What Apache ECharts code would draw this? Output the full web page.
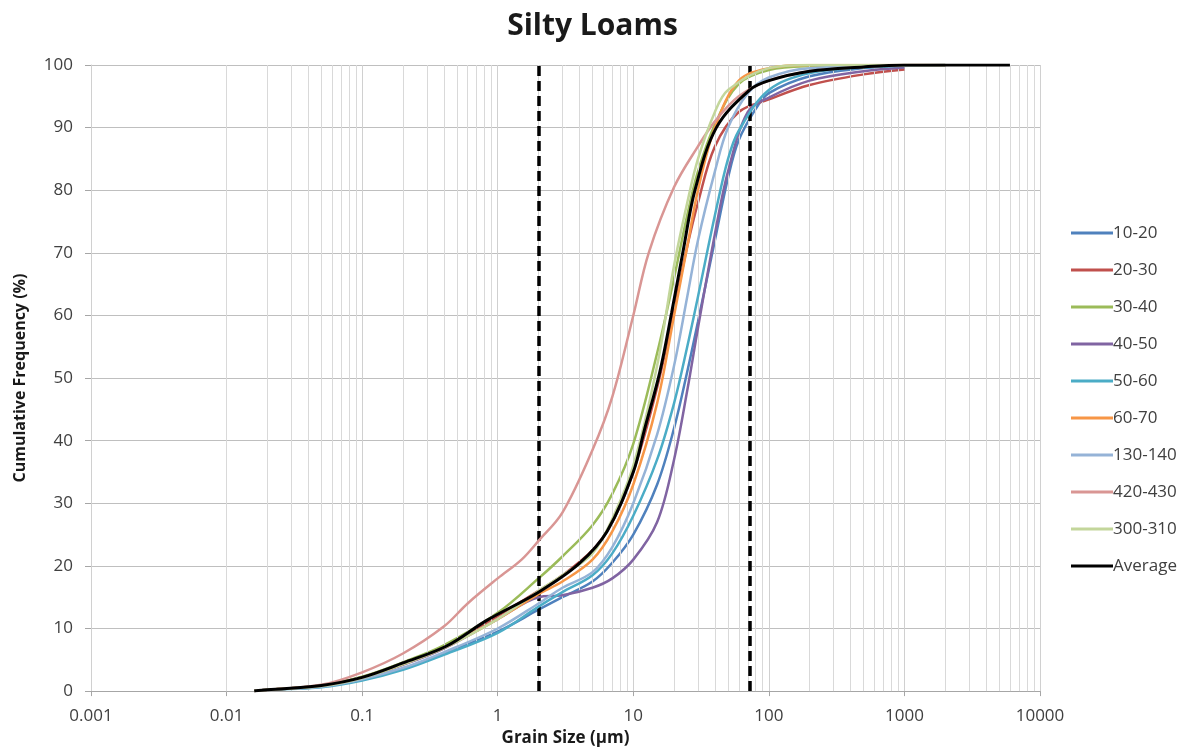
<!DOCTYPE html>
<html>
<head>
<meta charset="utf-8">
<script src="https://cdn.jsdelivr.net/npm/echarts@6/dist/echarts.min.js"></script>
<style>
  html, body { margin: 0; padding: 0; background: #fff; }
  #chart { width: 1185px; height: 752px; }
</style>
</head>
<body>
<div id="chart"></div>
<script>
// Cumulative grain-size curves: [grain size (µm), cumulative frequency (%)]
const s10_20 = [[0.016,0],[0.02,0.2],[0.05,0.7],[0.1,1.9],[0.2,3.6],[0.4,6],[1,9.5],[2,13],[3,15],[5,17.5],[7,20.5],[10,25],[15,33],[20,42],[25,51],[30,59],[40,72],[50,82],[60,88],[80,93],[100,95.5],[200,98.2],[500,99.5],[1000,99.9],[2000,100]];
const s20_30 = [[0.016,0],[0.02,0.2],[0.05,0.9],[0.1,2.2],[0.2,4.4],[0.4,7],[1,12],[2,16],[3,18.5],[5,22.5],[7,27],[10,35],[15,48.5],[20,61],[25,71],[30,78],[40,87],[60,92.5],[100,94.5],[200,96.8],[500,98.5],[1000,99.3]];
const s30_40 = [[0.016,0],[0.02,0.2],[0.05,0.9],[0.1,2.3],[0.2,4.6],[0.4,7.3],[1,12.5],[2,18],[3,21.5],[5,26.5],[7,31.5],[10,39.5],[15,54],[20,66],[25,76],[30,83],[40,90.5],[60,97],[100,99.2],[200,99.8],[2000,100]];
const s40_50 = [[0.016,0],[0.02,0.2],[0.05,0.8],[0.1,2.1],[0.2,4.2],[0.4,6.8],[1,11.5],[2,15],[3,15.3],[5,16.5],[7,18],[10,21],[15,27],[20,37],[25,48],[30,58],[40,73],[50,83],[70,92.5],[100,94.8],[200,97.5],[500,99],[1000,99.6]];
const s50_60 = [[0.016,0],[0.02,0.2],[0.05,0.6],[0.1,1.7],[0.2,3.4],[0.4,5.8],[1,9.3],[2,13.5],[3,15.8],[5,18.5],[7,22],[10,28],[15,37],[20,46],[25,55],[30,63],[40,76],[50,85],[60,89.5],[100,96],[200,98.7],[500,99.6],[2000,100]];
const s60_70 = [[0.016,0],[0.02,0.2],[0.05,0.8],[0.1,2.1],[0.2,4.3],[0.4,6.9],[1,11.5],[2,15.5],[3,17.5],[5,21],[7,25.5],[10,33],[15,46],[20,60],[25,71],[30,80],[40,90],[60,97.5],[100,99.5],[200,100],[2000,100]];
const s130_140 = [[0.016,0],[0.02,0.2],[0.05,0.7],[0.1,1.9],[0.2,3.7],[0.4,6.2],[1,10],[2,14],[3,16.5],[5,19],[7,23],[10,30],[15,41],[20,52],[25,63],[30,72],[40,83],[50,90],[70,95.5],[100,98],[200,99.5],[2000,100]];
const s420_430 = [[0.016,0],[0.02,0.2],[0.05,1.0],[0.1,3.0],[0.2,6],[0.4,10.3],[0.6,14],[1,18],[1.5,21],[2,24],[3,28.5],[5,38.5],[7,47],[10,60],[13,70],[20,80.5],[30,87],[40,91],[60,95],[100,97.5],[200,99],[500,99.7],[1000,100],[2000,100]];
const s300_310 = [[0.016,0],[0.02,0.2],[0.05,0.8],[0.1,2.1],[0.2,4.3],[0.4,6.9],[1,11.5],[2,16],[3,18.5],[5,22],[7,27.5],[10,36],[15,52],[20,68],[25,78],[30,85],[40,92.5],[50,96],[100,99.5],[200,100],[2000,100]];
const average = [[0.016,0],[0.02,0.2],[0.05,0.9],[0.1,2.2],[0.2,4.5],[0.42,7.2],[0.83,11.3],[2,15.8],[4,20.4],[6.4,25.5],[10,35],[12,41.5],[15.7,51],[19.2,60.5],[23.4,70.5],[28.5,80],[41,90],[72,96],[100,97.5],[200,99],[500,99.7],[1000,100],[6000,100]];

const seriesNames = ['10-20','20-30','30-40','40-50','50-60','60-70','130-140','420-430','300-310','Average'];
const seriesData = [s10_20, s20_30, s30_40, s40_50, s50_60, s60_70, s130_140, s420_430, s300_310, average];
const seriesColors = ['#4F81BD','#C0504D','#9BBB59','#8064A2','#4BACC6','#F79646','#95B3D7','#D99694','#C3D69B','#000000'];

// Size class boundaries drawn as dashed verticals (µm)
const boundaries = [2, 72];

const xTickLabels = ['0.001','0.01','0.1','1','10','100','1000','10000'];

// Minor log gridlines (2..9 within each decade)
const minorGrid = [];
for (let d = -3; d < 4; d++) {
  for (let m = 2; m <= 9; m++) minorGrid.push({ xAxis: m * Math.pow(10, d) });
}

const FONT = '"Open Sans", Lato, sans-serif';

const series = [
  {
    name: '_grid', type: 'line', data: [], z: 1, silent: true,
    markLine: {
      silent: true, symbol: 'none', animation: false,
      label: { show: false },
      lineStyle: { color: '#d9d9d9', width: 1, type: 'solid' },
      emphasis: { disabled: true },
      data: minorGrid
    }
  }
];
seriesNames.forEach((name, i) => {
  series.push({
    name: name,
    type: 'line',
    data: seriesData[i],
    smooth: 0.35,
    symbol: 'none',
    z: 2 + i,
    lineStyle: { color: seriesColors[i], width: name === 'Average' ? 3 : 2.5 },
    itemStyle: { color: seriesColors[i] },
    emphasis: { disabled: true },
    animation: false
  });
});
series.push({
  name: '_bounds', type: 'line', data: [], z: 20, silent: true,
  markLine: {
    silent: true, symbol: 'none', animation: false,
    label: { show: false },
    lineStyle: { color: '#000', width: 3.5, type: [10, 5] },
    emphasis: { disabled: true },
    data: boundaries.map(v => ({ xAxis: v }))
  }
});

const chart = echarts.init(document.getElementById('chart'), null, { renderer: 'canvas' });
chart.setOption({
  animation: false,
  backgroundColor: '#ffffff',
  title: {
    text: 'Silty Loams',
    left: 'center',
    top: 6,
    textStyle: { fontFamily: FONT, fontSize: 30, fontWeight: 'bold', color: '#1a1a1a' }
  },
  grid: { left: 91, right: 145, top: 65, bottom: 59 },
  legend: {
    data: seriesNames,
    orient: 'vertical',
    left: 1066,
    top: 218,
    icon: 'rect',
    itemWidth: 42,
    itemHeight: 3,
    itemGap: 17,
    textStyle: { fontFamily: FONT, fontSize: 17, lineHeight: 20, color: '#404040', padding: [0, 0, 0, -5] },
    selectedMode: false
  },
  xAxis: {
    type: 'log',
    logBase: 10,
    min: 0.001,
    max: 10000,
    name: 'Grain Size (µm)',
    nameLocation: 'middle',
    nameGap: 38,
    nameTextStyle: { fontFamily: FONT, fontSize: 17, fontWeight: 'bold', color: '#1a1a1a' },
    axisLine: { show: true, lineStyle: { color: '#a6a6a6', width: 1 } },
    axisTick: { show: true, length: 5, lineStyle: { color: '#a6a6a6' } },
    axisLabel: {
      fontFamily: FONT, fontSize: 17, color: '#404040', margin: 17,
      formatter: v => {
        const k = Math.round(Math.log10(v)) + 3;
        return xTickLabels[k] !== undefined ? xTickLabels[k] : '';
      }
    },
    splitLine: { show: true, lineStyle: { color: '#d0d0d0', width: 1 } }
  },
  yAxis: {
    type: 'value',
    min: 0,
    max: 100,
    interval: 10,
    name: 'Cumulative Frequency (%)',
    nameLocation: 'middle',
    nameGap: 63,
    nameTextStyle: { fontFamily: FONT, fontSize: 16, fontWeight: 'bold', color: '#1a1a1a' },
    axisLine: { show: true, lineStyle: { color: '#d0d0d0', width: 1 } },
    axisTick: { show: true, length: 6, lineStyle: { color: '#a6a6a6' } },
    axisLabel: { fontFamily: FONT, fontSize: 17, color: '#404040', margin: 18 },
    splitLine: { show: true, lineStyle: { color: '#bfbfbf', width: 1 } }
  },
  series: series
});
</script>
</body>
</html>
